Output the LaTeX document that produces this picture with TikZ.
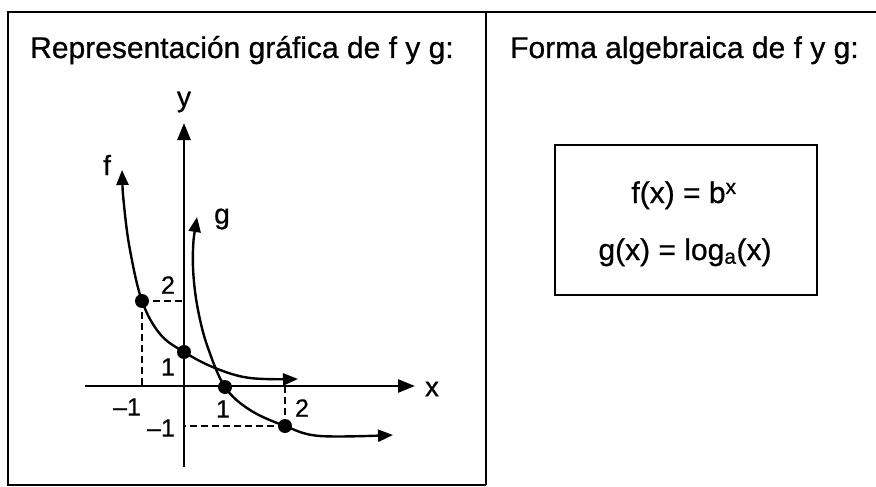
\documentclass[tikz,border=0pt]{standalone}
\usepackage{fontspec}
\setmainfont{Liberation Sans}[FakeBold=0.7]
\usetikzlibrary{arrows.meta,positioning}

\begin{document}
\begin{tikzpicture}[
    x=1pt, y=-1pt,
    title/.style={anchor=base west, font=\fontsize{30}{36}\selectfont, inner sep=0pt},
    formula/.style={anchor=base, font=\fontsize{30}{36}\selectfont, inner sep=0pt},
    axislabel/.style={font=\fontsize{28}{32}\selectfont, inner sep=0pt},
    ticklabel/.style={font=\fontsize{25}{30}\selectfont, inner sep=0pt},
    axisline/.style={line width=2.6pt, -{Triangle[length=17pt,width=13pt]}},
    curveline/.style={line width=2.4pt, {Triangle[length=15pt,width=12pt]}-{Triangle[length=15pt,width=12pt]}},
    guide/.style={line width=2.4pt, dash pattern=on 7pt off 4pt},
    frameline/.style={line width=2.6pt}
]
    \useasboundingbox (0,0) rectangle (876,487);

    % frame of the two panels
    \draw[frameline] (876,12) -- (8,12) -- (8,485) -- (486,485);
    \draw[frameline] (486,12) -- (486,485);

    \node[title] (lefttitle) at (30,58) {Representación gráfica de f y g:};
    \node[title] (righttitle) at (510,58) {Forma algebraica de f y g:};

    % axes
    \coordinate (O) at (184,386);
    \coordinate (xstart) at (85,386);
    \coordinate (xend) at (415,386);
    \coordinate (ystart) at (184,467);
    \coordinate (yend) at (184,123);
    \draw[axisline] (xstart) -- (xend);
    \draw[axisline] (ystart) -- (yend);
    \node[axislabel] (xlab) at (432,389) {x};
    \node[axislabel] (ylab) at (184,102) {y};

    % marked points
    \coordinate (fm1) at (142,301);
    \coordinate (f0) at (184,352);
    \coordinate (g1) at (225,387);
    \coordinate (g2) at (285,426);

    \draw[guide] (fm1) -- (fm1 -| O);
    \draw[guide] (fm1) -- (fm1 |- O);
    \draw[guide] (g2) -- (g2 -| O);
    \draw[guide] (g2) -- (g2 |- O);

    % curves
    \draw[curveline] plot[smooth, tension=0.6] coordinates
        {(122,170) (124,205) (130,250) (fm1) (160,334) (f0) (215,368) (250,378) (298,379)};
    \draw[curveline] plot[smooth, tension=0.6] coordinates
        {(197,217) (193,250) (194,282) (199,315) (208,348) (g1) (250,410) (g2) (320,436) (393,435)};
    \node[axislabel] (flab) at (107,165) {f};
    \node[axislabel] (glab) at (222,219) {g};

    \foreach \p in {fm1,f0,g1,g2}
        \fill (\p) circle (7pt);

    % tick labels
    \node[ticklabel] (ytwo) at (168,285) {2};
    \node[ticklabel] (yone) at (168,367) {1};
    \node[ticklabel] (xmone) at (127,407) {–1};
    \node[ticklabel] (xone) at (223,409) {1};
    \node[ticklabel] (xtwo) at (302,408) {2};
    \node[ticklabel] (ymone) at (161,428) {–1};

    % algebraic form
    \node[draw, line width=2.8pt, minimum width=262pt, minimum height=150pt] (algebox) at (686,220) {};
    \node[formula] (fdef) at (684,203) {f(x) = b\textsuperscript{x}};
    \node[formula] (gdef) at (685,260) {g(x) = log\textsubscript{a}(x)};
\end{tikzpicture}
\end{document}
